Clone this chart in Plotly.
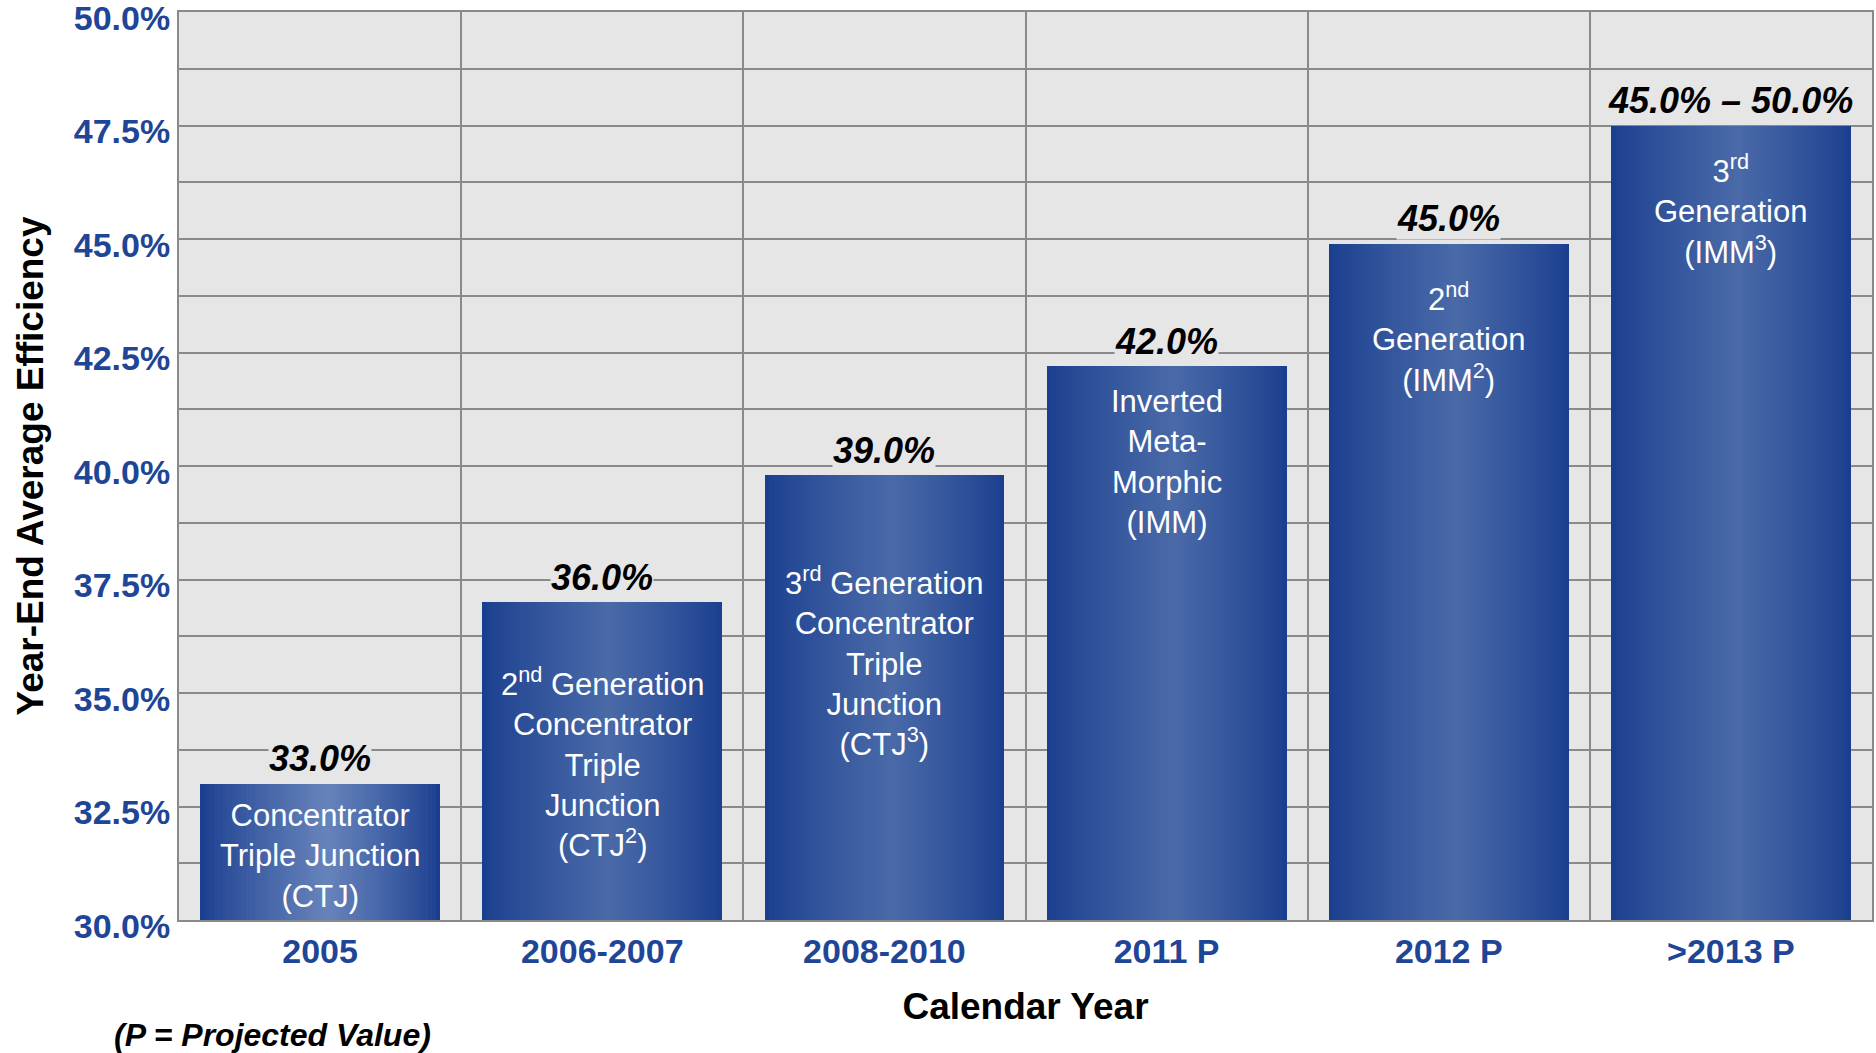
import plotly.graph_objects as go

# ---------------- data ----------------
categories = ["2005", "2006-2007", "2008-2010", "2011 P", "2012 P", ">2013 P"]
bar_values = [33.0, 37.0, 39.8, 42.2, 44.9, 47.5]
value_labels = ["33.0%", "36.0%", "39.0%", "42.0%", "45.0%", "45.0% – 50.0%"]
bar_texts = [
    "Concentrator<br>Triple Junction<br>(CTJ)",
    "2<sup>nd</sup> Generation<br>Concentrator<br>Triple<br>Junction<br>(CTJ<sup>2</sup>)",
    "3<sup>rd</sup> Generation<br>Concentrator<br>Triple<br>Junction<br>(CTJ<sup>3</sup>)",
    "Inverted<br>Meta-<br>Morphic<br>(IMM)",
    "2<sup>nd</sup><br>Generation<br>(IMM<sup>2</sup>)",
    "3<sup>rd</sup><br>Generation<br>(IMM<sup>3</sup>)",
]
y_tick_values = [30.0, 32.5, 35.0, 37.5, 40.0, 42.5, 45.0, 47.5, 50.0]
y_tick_labels = ["30.0%", "32.5%", "35.0%", "37.5%", "40.0%", "42.5%", "45.0%", "47.5%", "50.0%"]

# ---------------- styles ----------------
FONT = "Liberation Sans, Arial, sans-serif"
BLUE_TXT = "#1f4597"
GRID = "#8a8a8a"
EDGE = (27, 63, 143)
CENTERS = [(104, 132, 188), (74, 106, 168), (74, 106, 168), (74, 106, 168), (74, 106, 168), (74, 106, 168)]
BAR_W = 0.85
PEAK = 0.53
N_LAYERS = 28
text_shift = [-72, -160, -186, -96, -94, -84]   # px offset of inner text centre below bar top


def mix(a, b, t):
    return "rgb(%d,%d,%d)" % tuple(round(a[i] + (b[i] - a[i]) * t) for i in range(3))


fig = go.Figure()
for k in range(N_LAYERS):
    t = k / N_LAYERS
    ease = t ** 0.85
    fig.add_trace(go.Bar(
        x=categories,
        y=bar_values,
        width=BAR_W * (1 - t),
        offset=-BAR_W / 2 + t * PEAK * BAR_W,
        marker=dict(color=[mix(EDGE, c, ease) for c in CENTERS], line=dict(width=0)),
        showlegend=False,
        hoverinfo="skip" if k else None,
    ))

annotations = []
for i, (val, lab, txt, sh) in enumerate(zip(bar_values, value_labels, bar_texts, text_shift)):
    annotations.append(dict(
        x=i, y=val, xref="x", yref="y", text=lab, showarrow=False,
        yanchor="middle", yshift=25, bgcolor="#e6e6e6", borderpad=0,
        font=dict(family=FONT, size=36, color="black", weight="bold", style="italic"),
    ))
    annotations.append(dict(
        x=i, y=val, xref="x", yref="y", text=txt, showarrow=False,
        yanchor="middle", yshift=sh, align="center",
        font=dict(family=FONT, size=31, color="white"),
    ))

annotations.append(dict(
    x=0.055, y=-0.127, xref="paper", yref="paper", text="(P = Projected Value)",
    showarrow=False, xanchor="center", yanchor="middle",
    font=dict(family=FONT, size=32, color="black", weight="bold", style="italic"),
))

fig.update_layout(
    width=1876, height=1053,
    margin=dict(l=179, r=4, t=12, b=133),
    paper_bgcolor="white",
    plot_bgcolor="#e6e6e6",
    barmode="overlay",
    bargap=0,
    showlegend=False,
    font=dict(family=FONT),
    annotations=annotations,
    xaxis=dict(
        type="category",
        range=[-0.5, 5.5],
        automargin=False,
        tickson="boundaries",
        showgrid=True, gridcolor=GRID, gridwidth=2,
        ticks="outside", ticklen=14, tickcolor="rgba(0,0,0,0)",
        tickfont=dict(family=FONT, size=34, color=BLUE_TXT, weight="bold"),
        showline=True, linecolor=GRID, linewidth=2, mirror=True,
        title=dict(text="Calendar Year", standoff=24,
                   font=dict(family=FONT, size=37, color="black", weight="bold")),
    ),
    yaxis=dict(
        range=[30, 50],
        automargin=False,
        tickmode="array", tickvals=y_tick_values, ticktext=y_tick_labels,
        ticklabelshift=6,
        ticklabeloverflow="allow",
        showgrid=True, gridcolor=GRID, gridwidth=2,
        minor=dict(dtick=1.25, tick0=30, showgrid=True, gridcolor=GRID, gridwidth=2),
        ticks="",
        tickfont=dict(family=FONT, size=34, color=BLUE_TXT, weight="bold"),
        showline=True, linecolor=GRID, linewidth=2, mirror=True,
        zeroline=False,
        title=dict(text="Year-End Average Efficiency", standoff=19,
                   font=dict(family=FONT, size=37, color="black", weight="bold")),
    ),
)

fig.write_html("out.html", config={"displayModeBar": False},
               post_script="document.body.style.margin='0';")
